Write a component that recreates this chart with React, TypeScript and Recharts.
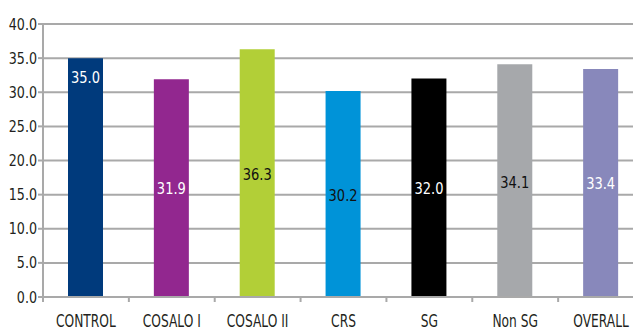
import React from 'react';
import { BarChart, Bar, XAxis, YAxis, CartesianGrid, Cell, LabelList } from 'recharts';

const groups = ['CONTROL', 'COSALO I', 'COSALO II', 'CRS', 'SG', 'Non SG', 'OVERALL'];
const scores = [35.0, 31.9, 36.3, 30.2, 32.0, 34.1, 33.4];
// value level at which each bar's number is printed
const labelAt = [32.2, 16.0, 18.0, 14.9, 16.0, 16.9, 16.7];
const yTicks = [0, 5, 10, 15, 20, 25, 30, 35, 40];

const barColors = ['#003a7c', '#92278f', '#b2cf37', '#0093d8', '#000000', '#a6a8ab', '#8888bb'];
const labelColors = ['#ffffff', '#ffffff', '#111111', '#111111', '#ffffff', '#111111', '#ffffff'];

const data = groups.map((name, i) => ({ name, score: scores[i], at: labelAt[i] }));

const FONT = '"DejaVu Sans", sans-serif';
const GRID = '#a9a9a9';
const INK = '#231f20';

// narrow text, squeezed horizontally like a condensed face
const Narrow = ({ x, y, size, fill, anchor, sx, children }: any) => (
  <text
    transform={`translate(${x},${y}) scale(${sx},1)`}
    textAnchor={anchor}
    fill={fill}
    fontSize={size}
    fontFamily={FONT}
  >
    {children}
  </text>
);

const CategoryTick = (props: any) => {
  const { x, y, payload } = props;
  const half = payload.offset || 0;
  return (
    <g>
      <line x1={x - half} y1={y - 8} x2={x - half} y2={y - 3} stroke={GRID} strokeWidth={2} />
      <Narrow x={x} y={y + 21.5} size={17.5} sx={0.7} anchor="middle" fill={INK}>
        {payload.value}
      </Narrow>
    </g>
  );
};

const ValueTick = (props: any) => {
  const { x, y, payload } = props;
  return (
    <Narrow x={x} y={y + 5.5} size={15.5} sx={0.82} anchor="end" fill={INK}>
      {Number(payload.value).toFixed(1)}
    </Narrow>
  );
};

const InsideLabel = (props: any) => {
  const { x, y, width, height, index, value } = props;
  const cy = y + height * (1 - labelAt[index] / value);
  return (
    <Narrow x={x + width / 2} y={cy + 6} size={16.5} sx={0.79} anchor="middle" fill={labelColors[index]}>
      {Number(value).toFixed(1)}
    </Narrow>
  );
};

export default function App() {
  return (
    <div style={{ marginLeft: -8, marginTop: -8, width: 641, height: 331, overflow: 'hidden', background: '#fff' }}>
      <BarChart width={650} height={331} data={data} margin={{ top: 24, right: 6, bottom: 0, left: 0 }} barSize={35}>
        <CartesianGrid vertical={false} stroke={GRID} strokeWidth={2} />
        <XAxis
          dataKey="name"
          height={34}
          axisLine={{ stroke: GRID, strokeWidth: 2 }}
          tickLine={false}
          tick={<CategoryTick />}
          interval={0}
        />
        <YAxis
          domain={[0, 40]}
          ticks={yTicks}
          width={43}
          interval={0}
          axisLine={{ stroke: GRID, strokeWidth: 2 }}
          tickLine={{ stroke: GRID, strokeWidth: 2 }}
          tickSize={5}
          tickMargin={1}
          tick={<ValueTick />}
        />
        <Bar dataKey="score" isAnimationActive={false}>
          {data.map((d, i) => (
            <Cell key={d.name} fill={barColors[i]} />
          ))}
          <LabelList dataKey="score" content={<InsideLabel />} />
        </Bar>
      </BarChart>
    </div>
  );
}
